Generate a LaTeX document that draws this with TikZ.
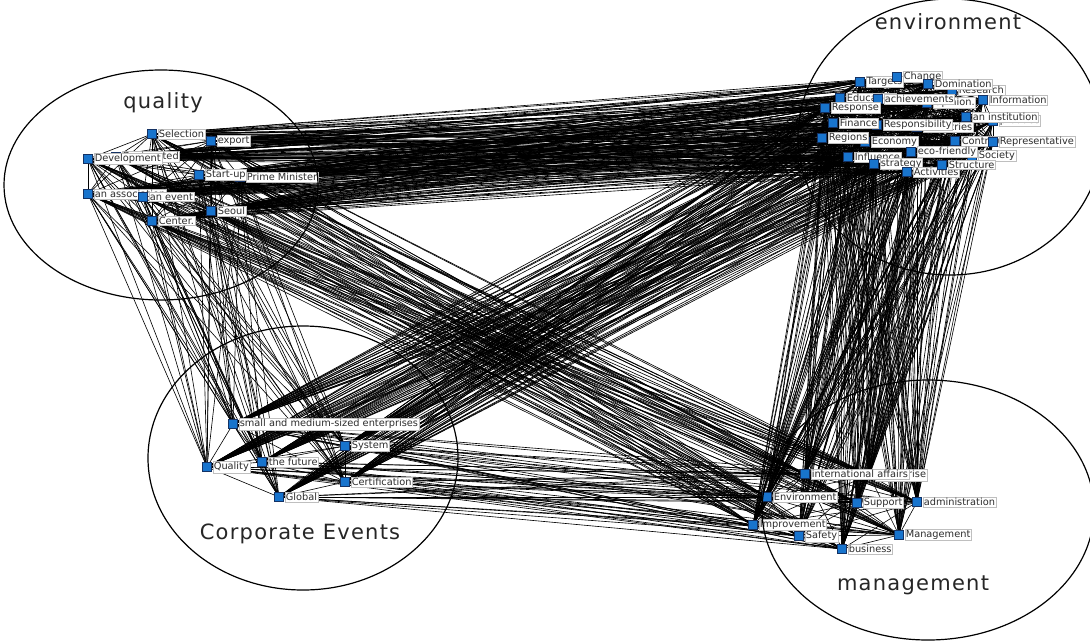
\documentclass[tikz,border=0pt]{standalone}
\usepackage{fontspec}
\setmainfont{DejaVu Sans}
\usetikzlibrary{backgrounds}
\definecolor{nodeblue}{RGB}{24,116,205}
\definecolor{nodeedge}{RGB}{20,50,100}
\definecolor{labgray}{RGB}{45,45,45}
\tikzset{
  vert/.style={draw=nodeedge, fill=nodeblue, minimum size=9pt, inner sep=0pt, line width=0.5pt},
  lab/.style={fill=white, draw=black!25, line width=0.3pt, inner sep=0.9pt, font=\fontsize{9.8}{10.5}\selectfont, text=labgray, anchor=west},
  edge/.style={line width=0.62pt, black},
  cluster/.style={line width=1.2pt, black},
  ctitle/.style={font=\fontsize{21}{23}\selectfont\addfontfeature{LetterSpace=6}, text=black!85}
}
\newcommand\mkv[3]{\node[vert] (#1) at (#2) {}; \node[lab] (#1l) at ([xshift=1pt]#1.east) {#3};}
\def\allnodes{q1,q2,q3,q4,q5,q6,q7,q8,q9,q10,e1,e2,e3,e4,e5,e6,e7,e8,e9,e10,e11,e12,e13,e14,e15,e16,e17,e18,e19,e20,e21,e22,e23,e24,c1,c2,c3,c4,c5,c6,m1,m2,m3,m4,m5,m6,m7,m8,m9}
\begin{document}
\begin{tikzpicture}[x=1pt,y=-1pt]
\useasboundingbox (0,0) rectangle (1090,641);
% quality
\mkv{q1}{152,134}{Selection}
\mkv{q2}{211,141}{export}
\mkv{q3}{116,157}{Designated}
\mkv{q4}{88,159}{Development}
\mkv{q6}{240,177}{Prime Minister}
\mkv{q5}{199,175}{Start-up}
\mkv{q7}{88,194}{an association}
\mkv{q8}{143,197}{an event}
\mkv{q9}{152,221}{Center.}
\mkv{q10}{211,211}{Seoul}
% environment
\mkv{e1}{860,82}{Targets}
\mkv{e2}{897,77}{Change}
\mkv{e4}{952,90}{Research}
\mkv{e3}{928,84}{Domination}
\mkv{e5}{840,98}{Education}
\mkv{e7}{927,103}{Opinion.}
\mkv{e6}{878,99}{achievements}
\mkv{e8}{983,100}{Information}
\mkv{e9}{825,108}{Response}
\mkv{e14}{993,121}{produce}
\mkv{e13}{966,117}{an institution}
\mkv{e12}{917,127}{Industries}
\mkv{e11}{877,125}{Responsibility}
\mkv{e10}{833,123}{Finance}
\mkv{e16}{865,142}{Economy}
\mkv{e15}{822,138}{Regions}
\mkv{e17}{955,141}{Contribution}
\mkv{e18}{993,142}{Representative}
\mkv{e19}{972,156}{Society}
\mkv{e20}{911,152}{eco-friendly}
\mkv{e21}{848,157}{Influence}
\mkv{e22}{874,164}{strategy}
\mkv{e23}{907,172}{Activities}
\mkv{e24}{942,165}{Structure}
% corporate events
\mkv{c1}{233,424}{small and medium-sized enterprises}
\mkv{c2}{345,446}{System}
\mkv{c3}{207,467}{Quality}
\mkv{c4}{262,462}{the future}
\mkv{c5}{345,482}{Certification}
\mkv{c6}{279,497}{Global}
% management
\mkv{m1}{869,475}{enterprise}
\mkv{m2}{805,474}{international affairs}
\mkv{m3}{767,497}{Environment}
\mkv{m4}{857,503}{Support}
\mkv{m5}{917,502}{administration}
\mkv{m6}{753,525}{Improvement}
\mkv{m7}{799,536}{Safety}
\mkv{m8}{899,535}{Management}
\mkv{m9}{842,549}{business}
% edges
\begin{pgfonlayer}{background}
\fill[white] (0,0) rectangle (1090,641);
\foreach \a [count=\i] in \allnodes {
  \foreach \b [count=\j] in \allnodes {
    \ifnum\j>\i \draw[edge] (\a) -- (\b); \fi
  }
}
\end{pgfonlayer}
% clusters
\draw[cluster] (161,185) ellipse [x radius=157, y radius=115];
\draw[cluster] (950,137) ellipse [x radius=152, y radius=138];
\draw[cluster] (303,458) ellipse [x radius=155, y radius=132];
\draw[cluster] (928,510) ellipse [x radius=166, y radius=130];
\node[ctitle] (tq) at (163,103) {quality};
\node[ctitle] (te) at (948,22) {environment};
\node[ctitle] (tc) at (300,534) {Corporate Events};
\node[ctitle] (tm) at (913,585) {management};
\end{tikzpicture}
\end{document}
